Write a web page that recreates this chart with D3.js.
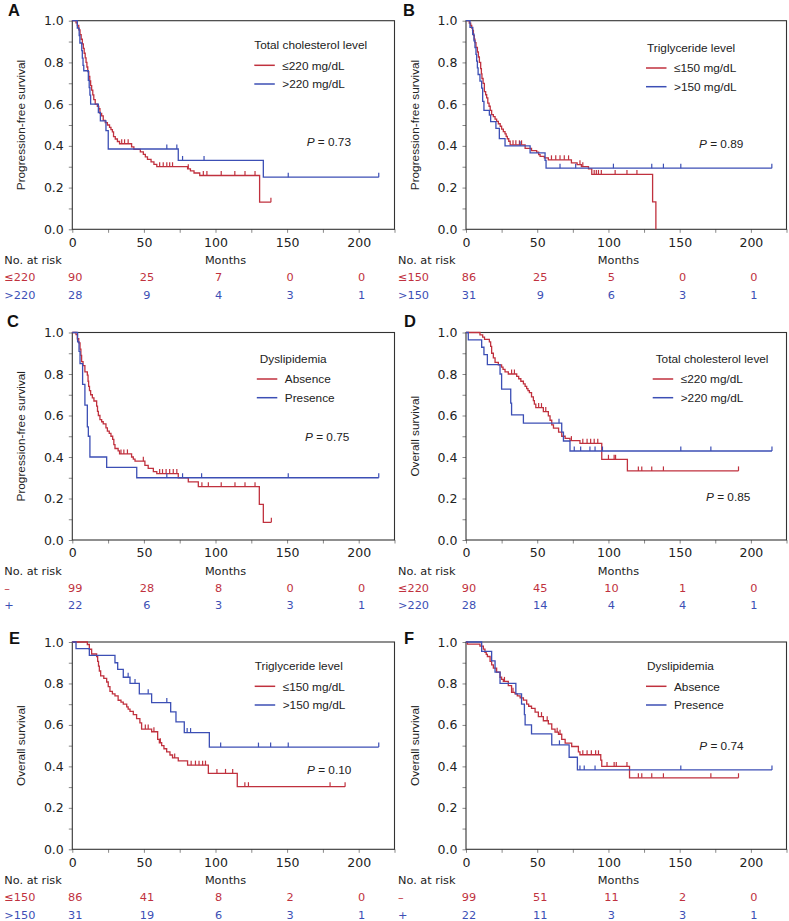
<!DOCTYPE html>
<html><head><meta charset="utf-8">
<script src="https://cdn.jsdelivr.net/npm/d3@7"></script>
<style>body{margin:0;background:#fff}svg{display:block}</style>
</head><body><svg id="c" width="789" height="921"></svg>
<script>
// ---------- data ----------
const monthTicks = [0, 50, 100, 150, 200];
const survTicks = [0, 0.2, 0.4, 0.6, 0.8, 1.0];
const panelLetters = ["A", "B", "C", "D", "E", "F"];
const pValues = ["0.73", "0.89", "0.75", "0.85", "0.10", "0.74"];
const yTitles = ["Progression-free survival", "Progression-free survival", "Progression-free survival", "Overall survival", "Overall survival", "Overall survival"];
const legendTitles = ["Total cholesterol level", "Triglyceride level", "Dyslipidemia", "Total cholesterol level", "Triglyceride level", "Dyslipidemia"];
const cholLabels = ["≤220 mg/dL", ">220 mg/dL"];
const tgLabels = ["≤150 mg/dL", ">150 mg/dL"];
const dysLabels = ["Absence", "Presence"];
const cholRiskLabels = ["≤220", ">220"];
const tgRiskLabels = ["≤150", ">150"];
const dysRiskLabels = ["–", "+"];

// steps: [month, survival after drop]
const pfsCholLow = [[2.6,0.99],[3.5,0.978],[4.5,0.956],[5.4,0.933],[6.2,0.911],[7,0.889],[7.7,0.867],[8.3,0.844],[9,0.822],[9.6,0.80],[10.2,0.778],[10.8,0.756],[11.5,0.733],[12.2,0.711],[12.8,0.689],[13.5,0.667],[14.3,0.644],[15,0.622],[16,0.60],[17.5,0.589],[18.5,0.578],[19.3,0.556],[20.5,0.544],[21.6,0.522],[23,0.511],[24.5,0.50],[26,0.489],[27,0.478],[28,0.467],[28.8,0.444],[30,0.433],[31.5,0.421],[33,0.41],[41.4,0.395],[43,0.383],[47.5,0.371],[49.6,0.359],[51,0.347],[52.5,0.335],[55,0.323],[57,0.311],[59,0.30],[80.5,0.29],[82.5,0.28],[85,0.27],[89,0.258],[130.8,0.13]];
const pfsCholLowCens = [34.5,36.5,39,61,63.5,66,68,70,81,91.5,94,104,113.5,120.6,127.6,138.7];
const pfsCholHigh = [[3.5,0.964],[4.8,0.929],[5.3,0.893],[6.6,0.857],[7,0.821],[7.5,0.786],[8,0.76],[11.2,0.714],[11.8,0.679],[12.3,0.643],[12.8,0.60],[18.2,0.56],[19.6,0.52],[23.5,0.473],[25.1,0.385],[74,0.33],[133.4,0.25]];
const pfsCholHighCens = [66,73,77,92,150.8,214];

const pfsTgLow = [[2.3,0.988],[3.3,0.977],[4,0.965],[4.6,0.953],[5.2,0.93],[5.8,0.912],[6.3,0.895],[7,0.872],[8,0.85],[8.7,0.826],[9.4,0.80],[10.3,0.77],[10.8,0.745],[11.2,0.723],[12,0.70],[12.9,0.66],[13.8,0.645],[14.5,0.63],[15.3,0.605],[16.2,0.59],[17,0.57],[18,0.55],[19.2,0.54],[20.4,0.528],[21.5,0.517],[22.7,0.506],[24,0.494],[25,0.48],[26.2,0.468],[27.4,0.457],[28.2,0.445],[29,0.434],[30,0.422],[31,0.405],[41.5,0.388],[46,0.377],[49.6,0.37],[51,0.358],[52,0.35],[55,0.342],[57.8,0.333],[74,0.318],[78,0.31],[81,0.30],[86,0.29],[88.3,0.263],[131,0.131],[133.3,0]];
const pfsTgLowCens = [33,35,37.5,39,60,63,66,69,72,80,82,90,91.5,93,95,104.7,113,120];
const pfsTgHigh = [[2.8,0.968],[4.7,0.935],[5.6,0.903],[6.3,0.871],[7,0.839],[7.5,0.806],[8,0.774],[8.5,0.742],[9.8,0.71],[11,0.677],[11.7,0.613],[12.6,0.57],[16.4,0.548],[17.3,0.516],[21,0.484],[23.4,0.435],[27.4,0.40],[45,0.366],[55.5,0.33],[56.2,0.293]];
const pfsTgHighCens = [38,66,77,103.5,130.4,138.6,150.8,214.7];

const pfsDysAbs = [[2.6,0.99],[3.5,0.97],[4.5,0.95],[5.4,0.92],[6,0.89],[6.5,0.86],[7.5,0.84],[8.8,0.81],[10.5,0.795],[11,0.765],[11.4,0.74],[12,0.72],[12.8,0.70],[14,0.685],[15.1,0.67],[17,0.645],[17.6,0.62],[18.2,0.60],[19.3,0.58],[20.5,0.57],[21.6,0.56],[23.5,0.54],[24.5,0.525],[25.8,0.514],[27,0.50],[28.2,0.485],[29,0.46],[29.8,0.441],[32,0.43],[33,0.415],[41.4,0.40],[42.6,0.39],[43.8,0.38],[50.7,0.36],[53,0.345],[56.6,0.33],[59,0.32],[74,0.30],[81,0.28],[88,0.257],[130.6,0.172],[133.4,0.085]];
const pfsDysAbsCens = [34,36,38.5,49.6,61,63,65.5,68,70.5,73,90.5,95,104,113.6,120.6,127.6,139];
const pfsDysPre = [[3.7,0.955],[4.7,0.909],[5.4,0.85],[7.2,0.75],[8.8,0.65],[10.5,0.545],[11.2,0.50],[12.3,0.40],[24,0.35],[45,0.30]];
const pfsDysPreCens = [66,77,90.3,150.8,214];

const osCholLow = [[9.8,0.989],[11.7,0.978],[13,0.967],[16.4,0.955],[17.3,0.933],[18,0.90],[19.2,0.878],[20.4,0.856],[22.7,0.844],[25,0.833],[26,0.822],[27.4,0.81],[29.7,0.80],[35.6,0.789],[37,0.777],[38.5,0.765],[40.3,0.752],[41.5,0.74],[42.6,0.73],[43.5,0.72],[44.5,0.71],[46,0.69],[47.3,0.672],[48,0.655],[49,0.638],[54.3,0.619],[57.8,0.598],[59,0.577],[60.2,0.555],[61.4,0.539],[65,0.52],[67.2,0.50],[69.6,0.49],[73,0.479],[80,0.466],[95.3,0.389],[113.3,0.333]];
const osCholLowCens = [32,34,51,53,56,74,82,85,87.5,90,92.5,100,104,105,121,123.4,130.4,138.6,191.3];
const osCholHigh = [[1.6,0.964],[11,0.929],[12.6,0.893],[15,0.845],[23.9,0.80],[25,0.727],[31.4,0.66],[32,0.603],[40.3,0.563],[67.2,0.52],[68.4,0.477],[73,0.429]];
const osCholHighCens = [65.3,76,80.5,87,90.6,95.8,150.8,171.9,214.8];

const osTgLow = [[10.5,0.988],[11.9,0.965],[13.5,0.942],[17,0.93],[17.7,0.907],[18.3,0.884],[18.9,0.86],[19.8,0.837],[22,0.825],[24,0.807],[25.1,0.785],[26.3,0.762],[28,0.75],[29.8,0.74],[32,0.719],[34,0.71],[35.6,0.70],[38,0.687],[39,0.676],[40.3,0.665],[42.6,0.65],[44.9,0.63],[47.2,0.61],[48.4,0.58],[55.4,0.567],[59.6,0.53],[60.8,0.514],[62.4,0.50],[64,0.485],[65.9,0.47],[68.2,0.455],[70,0.441],[74,0.427],[80.5,0.406],[95,0.366],[115.2,0.302]];
const osTgLowCens = [51,53,57,61.5,71.5,83,86,88.5,91,93,101,107,112,120.5,123,180,190.5];
const osTgHigh = [[2.6,0.968],[11.9,0.935],[29.8,0.90],[31.7,0.868],[35.6,0.83],[40.3,0.80],[46.8,0.75],[55.4,0.708],[68.7,0.663],[72.4,0.615],[78.2,0.563],[95.7,0.493]];
const osTgHighCens = [39,43.8,53,66,80.2,82.6,103.6,130,138.5,150.8,214];

const osDysAbs = [[1,0.99],[9.8,0.98],[12.2,0.966],[13.3,0.95],[14.2,0.94],[15,0.93],[16.9,0.907],[18,0.89],[19.2,0.874],[21.5,0.855],[23.9,0.83],[25,0.82],[26.2,0.81],[29.7,0.79],[32,0.757],[34.4,0.75],[36,0.74],[38,0.73],[40.3,0.72],[42.6,0.70],[44,0.69],[46,0.68],[48.5,0.662],[50.8,0.64],[54.3,0.62],[57.8,0.605],[60.2,0.58],[62.5,0.565],[64.9,0.555],[67.2,0.53],[69.6,0.512],[74.2,0.496],[78.9,0.47],[80,0.456],[94.6,0.43],[95.3,0.40],[114.8,0.345]];
const osDysAbsCens = [27,33,53,57,64,66,82,85,88,91,93,99,104,105.5,113,121,123.4,130.4,138.6,171.9,191.3];
const osDysPre = [[11,0.955],[18,0.909],[20.4,0.855],[23.9,0.80],[35,0.75],[39,0.70],[41,0.65],[41.5,0.60],[46,0.557],[60.2,0.504],[72.4,0.444],[78.2,0.383]];
const osDysPreCens = [65.6,80,83,90.6,150.8,214.8];

// numbers at risk at 0, 50, 100, 150, 200 months
const riskA = [[90,25,7,0,0],[28,9,4,3,1]];
const riskB = [[86,25,5,0,0],[31,9,6,3,1]];
const riskC = [[99,28,8,0,0],[22,6,3,3,1]];
const riskD = [[90,45,10,1,0],[28,14,4,4,1]];
const riskE = [[86,41,8,2,0],[31,19,6,3,1]];
const riskF = [[99,51,11,2,0],[22,11,3,3,1]];

// ---------- layout / style ----------
const RED = "#c0313e", BLUE = "#3c4fb5";
const colLeft = [72.3, 466], colRight = [394.5, 786.5];
const rowTop = [20.7, 332.5, 642], rowBottom = [229.3, 540, 849.3];
const letterPos = [[8,15.5],[403,15.5],[7,327],[404,327],[9,644],[404,644]];
// legend: [line start dx, title baseline dy, title dx] relative to plot left/top
const legendPos = [[182,28.3,0],[180,31,1],[184.5,30.2,3],[186.7,30.2,3],[182.4,28,0],[180,28,1]];
const pPos = [[234.4,125],[233,127.3],[232.7,108],[240,168.2],[234.7,131.5],[233.3,108]];

const panels = [
  {curves:[pfsCholLow,pfsCholHigh], cens:[pfsCholLowCens,pfsCholHighCens], labels:cholLabels, riskLabels:cholRiskLabels, risk:riskA},
  {curves:[pfsTgLow,pfsTgHigh], cens:[pfsTgLowCens,pfsTgHighCens], labels:tgLabels, riskLabels:tgRiskLabels, risk:riskB},
  {curves:[pfsDysAbs,pfsDysPre], cens:[pfsDysAbsCens,pfsDysPreCens], labels:dysLabels, riskLabels:dysRiskLabels, risk:riskC},
  {curves:[osCholLow,osCholHigh], cens:[osCholLowCens,osCholHighCens], labels:cholLabels, riskLabels:cholRiskLabels, risk:riskD},
  {curves:[osTgLow,osTgHigh], cens:[osTgLowCens,osTgHighCens], labels:tgLabels, riskLabels:tgRiskLabels, risk:riskE},
  {curves:[osDysAbs,osDysPre], cens:[osDysAbsCens,osDysPreCens], labels:dysLabels, riskLabels:dysRiskLabels, risk:riskF}
];

const svg = d3.select("#c");
const NUMF = "'DejaVu Sans', Verdana, sans-serif";
const SANS = "'Liberation Sans', Arial, sans-serif";

function survAt(steps, t) {
  let s = 1;
  for (const [tt, ss] of steps) { if (tt <= t + 1e-9) s = ss; else break; }
  return s;
}

panels.forEach((p, i) => {
  const col = i % 2, row = Math.floor(i / 2);
  const x0 = colLeft[col], top = rowTop[row], bottom = rowBottom[row];
  const x = d3.scaleLinear().domain([0, 225]).range([x0, colRight[col]]);
  const y = d3.scaleLinear().domain([0, 1]).range([bottom, top]);
  const g = svg.append("g");
  const colors = [RED, BLUE];

  // panel letter
  g.append("text").attr("x", letterPos[i][0]).attr("y", letterPos[i][1])
    .attr("font-family", SANS).attr("font-weight", "bold").attr("font-size", 16.5)
    .attr("fill", "#111").text(panelLetters[i]);

  // y axis
  const yAx = g.append("g").attr("transform", `translate(${x0},0)`)
    .call(d3.axisLeft(y).tickValues(d3.range(0, 1.0001, 0.1)).tickSize(3.5).tickPadding(5)
      .tickFormat(d => Math.round(d * 10) % 2 === 0 ? d3.format(".1f")(d) : ""));
  yAx.select(".domain").remove();
  yAx.selectAll("line").attr("stroke", "#888");
  yAx.selectAll("text").attr("font-family", NUMF).attr("font-size", 12.5).attr("fill", "#222");

  // x axis
  const xAx = g.append("g").attr("transform", `translate(0,${bottom})`)
    .call(d3.axisBottom(x).tickValues(d3.range(0, 226, 25)).tickSize(3.5).tickPadding(5)
      .tickFormat(d => monthTicks.includes(d) ? d : ""));
  xAx.select(".domain").remove();
  xAx.selectAll("line").attr("stroke", "#888");
  xAx.selectAll("text").attr("font-family", NUMF).attr("font-size", 12.5).attr("fill", "#222");

  // frame
  g.append("rect").attr("x", x(0)).attr("y", y(1)).attr("width", x(225) - x(0)).attr("height", y(0) - y(1))
    .attr("fill", "none").attr("stroke", "#333").attr("stroke-width", 1.1);

  // y title
  g.append("text").attr("transform", `translate(${x0 - 47},${(top + bottom) / 2}) rotate(-90)`)
    .attr("text-anchor", "middle").attr("font-family", SANS).attr("font-size", 11.8).attr("fill", "#222")
    .text(yTitles[i]);

  // curves
  const line = d3.line().x(d => x(d[0])).y(d => y(d[1]));
  p.curves.forEach((steps, k) => {
    const pts = [[0, 1]];
    let prev = 1;
    steps.forEach(([t, s]) => { pts.push([t, prev]); pts.push([t, s]); prev = s; });
    const lastT = Math.max(steps[steps.length - 1][0], d3.max(p.cens[k]));
    if (prev > 0) pts.push([lastT, prev]);
    g.append("path").attr("d", line(pts)).attr("fill", "none").attr("stroke", colors[k])
      .attr("stroke-width", 1.3).attr("stroke-linejoin", "miter");
    g.selectAll(null).data(p.cens[k]).enter().append("line")
      .attr("x1", d => x(d)).attr("x2", d => x(d))
      .attr("y1", d => y(survAt(steps, d))).attr("y2", d => y(survAt(steps, d)) - 4.5)
      .attr("stroke", colors[k]).attr("stroke-width", 1.2);
  });

  // legend
  const [lx, ty, tdx] = legendPos[i];
  g.append("text").attr("x", x0 + lx + tdx).attr("y", top + ty)
    .attr("font-family", SANS).attr("font-size", 11.8).attr("fill", "#222").text(legendTitles[i]);
  p.labels.forEach((lab, k) => {
    const ly = top + ty + 16.3 + k * 18.7;
    g.append("line").attr("x1", x0 + lx).attr("x2", x0 + lx + 20.5).attr("y1", ly).attr("y2", ly)
      .attr("stroke", colors[k]).attr("stroke-width", 1.5);
    g.append("text").attr("x", x0 + lx + 28).attr("y", ly + 4.3)
      .attr("font-family", SANS).attr("font-size", 11.8).attr("fill", "#222").text(lab);
  });

  // P value
  const pt = g.append("text").attr("x", x0 + pPos[i][0]).attr("y", top + pPos[i][1])
    .attr("font-family", SANS).attr("font-size", 11.8).attr("fill", "#222");
  pt.append("tspan").attr("font-style", "italic").text("P");
  pt.append("tspan").text(" = " + pValues[i]);

  // risk table
  g.append("text").attr("x", x0 - 68).attr("y", bottom + 35)
    .attr("font-family", NUMF).attr("font-size", 11.3).attr("fill", "#222").text("No. at risk");
  g.append("text").attr("x", x(107)).attr("y", bottom + 35).attr("text-anchor", "middle")
    .attr("font-family", NUMF).attr("font-size", 11.3).attr("fill", "#222").text("Months");
  p.risk.forEach((vals, k) => {
    const ry = bottom + 52 + k * 17.3;
    g.append("text").attr("x", x0 - 68).attr("y", ry)
      .attr("font-family", NUMF).attr("font-size", 11.3).attr("fill", colors[k]).text(p.riskLabels[k]);
    g.selectAll(null).data(vals).enter().append("text")
      .attr("x", (d, j) => x(monthTicks[j]) + 3).attr("y", ry).attr("text-anchor", "middle")
      .attr("font-family", NUMF).attr("font-size", 11.3).attr("fill", colors[k]).text(d => d);
  });
});
</script>
</body></html>
